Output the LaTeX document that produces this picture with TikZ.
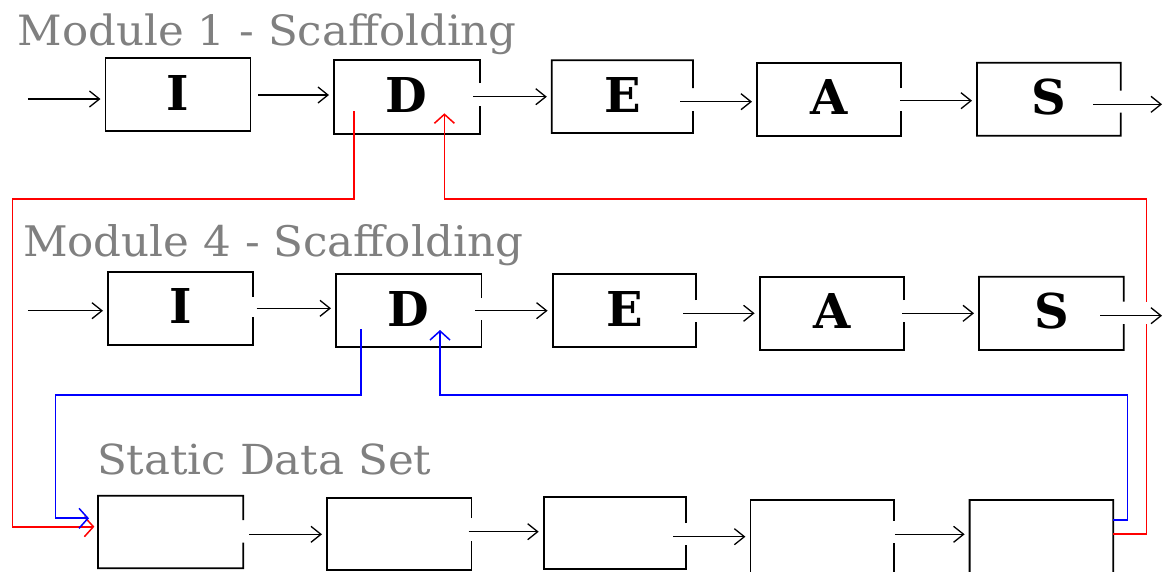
\documentclass[tikz,border=0pt]{standalone}
\usepackage{fontspec}
\usepackage{graphicx}
\newfontfamily\slabfont{DejaVu Serif}
\usetikzlibrary{arrows.meta,fit,calc}
\definecolor{titlegray}{RGB}{128,128,128}
\definecolor{fbred}{RGB}{255,0,0}
\definecolor{fbblue}{RGB}{0,0,255}
\tikzset{
  boxline/.style={line width=1.8pt, black},
  letter/.style={font=\slabfont\bfseries\fontsize{48}{48}\selectfont, inner sep=0pt},
  flow/.style={line width=1.4pt, -{Straight Barb[length=10pt,width=16pt,line width=1.3pt]}, shorten >=5pt},
  flowfree/.style={line width=1.4pt, -{Straight Barb[length=10pt,width=16pt,line width=1.3pt]}},
  fb/.style={line width=1.8pt, -{Straight Barb[length=9pt,width=20pt,line width=1.5pt]}},
  heading/.style={anchor=base west, inner sep=0pt, outer sep=0pt, text=titlegray},
}
% name, x1, y1, x2, y2, gap top, gap bottom, label
\newcommand\gapbox[8]{%
  \node[fit={(#2,#3) (#4,#5)}, inner sep=0pt, outer sep=0pt] (#1) {};
  \node[letter] (#1l) at ($(#1.center)+(0,-2)$) {#8};
  \draw[boxline] (#4,#6) -- (#1.north east) -- (#1.north west) -- (#1.south west) -- (#1.south east) -- (#4,#7);
}
\begin{document}
\begin{tikzpicture}[x=1pt,y=-1pt]
\useasboundingbox (0,0) rectangle (1164,571);
\clip (0,0) rectangle (1164,571);

% headings
\node[heading] (t1) at (17.8,45) {\resizebox{499pt}{31.7pt}{\slabfont Module 1 - Scaffolding}};
\node[heading] (t2) at (23,256) {\resizebox{500pt}{32pt}{\slabfont Module 4 - Scaffolding}};
\node[heading] (t3) at (97,474) {\resizebox{334.5pt}{30.7pt}{\slabfont Static Data Set}};

% row 1
\gapbox{i1}{105.5}{58.3}{250.5}{131}{95}{95}{I}
\gapbox{d1}{334}{60.3}{479.6}{133.7}{83}{106}{D}
\gapbox{e1}{551.8}{60.3}{693}{133}{88}{111}{E}
\gapbox{a1}{757}{62.7}{901}{135.7}{88}{111}{A}
\gapbox{s1}{977}{62.7}{1120.7}{135.7}{90.7}{112.7}{S}
% row 2
\gapbox{i2}{108}{271.7}{253}{345}{296.7}{316.7}{I}
\gapbox{d2}{336}{274}{481.5}{347.3}{298}{320}{D}
\gapbox{e2}{552.6}{274}{696}{347.3}{300}{321.7}{E}
\gapbox{a2}{759.6}{276.7}{904}{350}{300}{321.7}{A}
\gapbox{s2}{979}{276.7}{1123.7}{350}{301.7}{324}{S}
% row 3
\gapbox{b1}{98}{495.7}{243.3}{568.3}{520}{542.7}{}
\gapbox{b2}{327}{497.7}{471.5}{570}{518}{540.7}{}
\gapbox{b3}{543.7}{497.3}{686.3}{569.3}{523}{545}{}
\gapbox{b4}{750.4}{500}{894}{573}{520.7}{542.7}{}
\gapbox{b5}{969.6}{500}{1113.3}{573}{530}{530}{}

% connector start points
\coordinate (in1) at (27.8,99);
\coordinate (i1o) at (258,95);
\coordinate (d1o) at (473,96.7);
\coordinate (e1o) at (680,101.7);
\coordinate (a1o) at (900,100.7);
\coordinate (s1o) at (1093,104.3);
\coordinate (out1) at (1162,104.3);

\coordinate (in2) at (27.8,310.7);
\coordinate (i2o) at (256.7,308.3);
\coordinate (d2o) at (475,310.7);
\coordinate (e2o) at (683,313.3);
\coordinate (a2o) at (902,313.3);
\coordinate (s2o) at (1100,315.7);
\coordinate (out2) at (1162,315.7);

\coordinate (b1o) at (249,534.3);
\coordinate (b2o) at (468.5,531.7);
\coordinate (b3o) at (673,536.7);
\coordinate (b4o) at (894.8,534.3);

% row arrows
\draw[flow] (in1) -- (i1.west |- in1);
\draw[flow] (i1o) -- (d1.west |- i1o);
\draw[flow] (d1o) -- (e1.west |- d1o);
\draw[flow] (e1o) -- (a1.west |- e1o);
\draw[flow] (a1o) -- (s1.west |- a1o);
\draw[flowfree] (s1o) -- (out1);

\draw[flow] (in2) -- (i2.west |- in2);
\draw[flow] (i2o) -- (d2.west |- i2o);
\draw[flow] (d2o) -- (e2.west |- d2o);
\draw[flow] (e2o) -- (a2.west |- e2o);
\draw[flow] (a2o) -- (s2.west |- a2o);
\draw[flowfree] (s2o) -- (out2);

\draw[flow] (b1o) -- (b2.west |- b1o);
\draw[flow] (b2o) -- (b3.west |- b2o);
\draw[flow] (b3o) -- (b4.west |- b3o);
\draw[flow] (b4o) -- (b5.west |- b4o);

% feedback connectors
\coordinate (d1down) at (353.7,111);
\coordinate (d1in) at (444.4,113.3);
\coordinate (b1red) at (94.4,526.7);
\coordinate (b5red) at (1113.3,534.3);
\coordinate (d2down) at (361,329);
\coordinate (d2in) at (440,330);
\coordinate (b1blue) at (89,518.3);
\coordinate (b5blue) at (1113.3,520);

\draw[fb, fbred] (d1down) -- (353.7,199) -- (12.5,199) -- (12.5,526.7) -- (b1red);
\draw[fb, fbred] (b5red) -- (1146.5,534.3) -- (1146.5,324) (1146.5,301.7) -- (1146.5,199) -- (444.4,199) -- (d1in);
\draw[fb, fbblue] (d2down) -- (361,395) -- (55.5,395) -- (55.5,518.3) -- (b1blue);
\draw[fb, fbblue] (b5blue) -- (1127.4,520) -- (1127.4,395) -- (440,395) -- (d2in);
\end{tikzpicture}
\end{document}
